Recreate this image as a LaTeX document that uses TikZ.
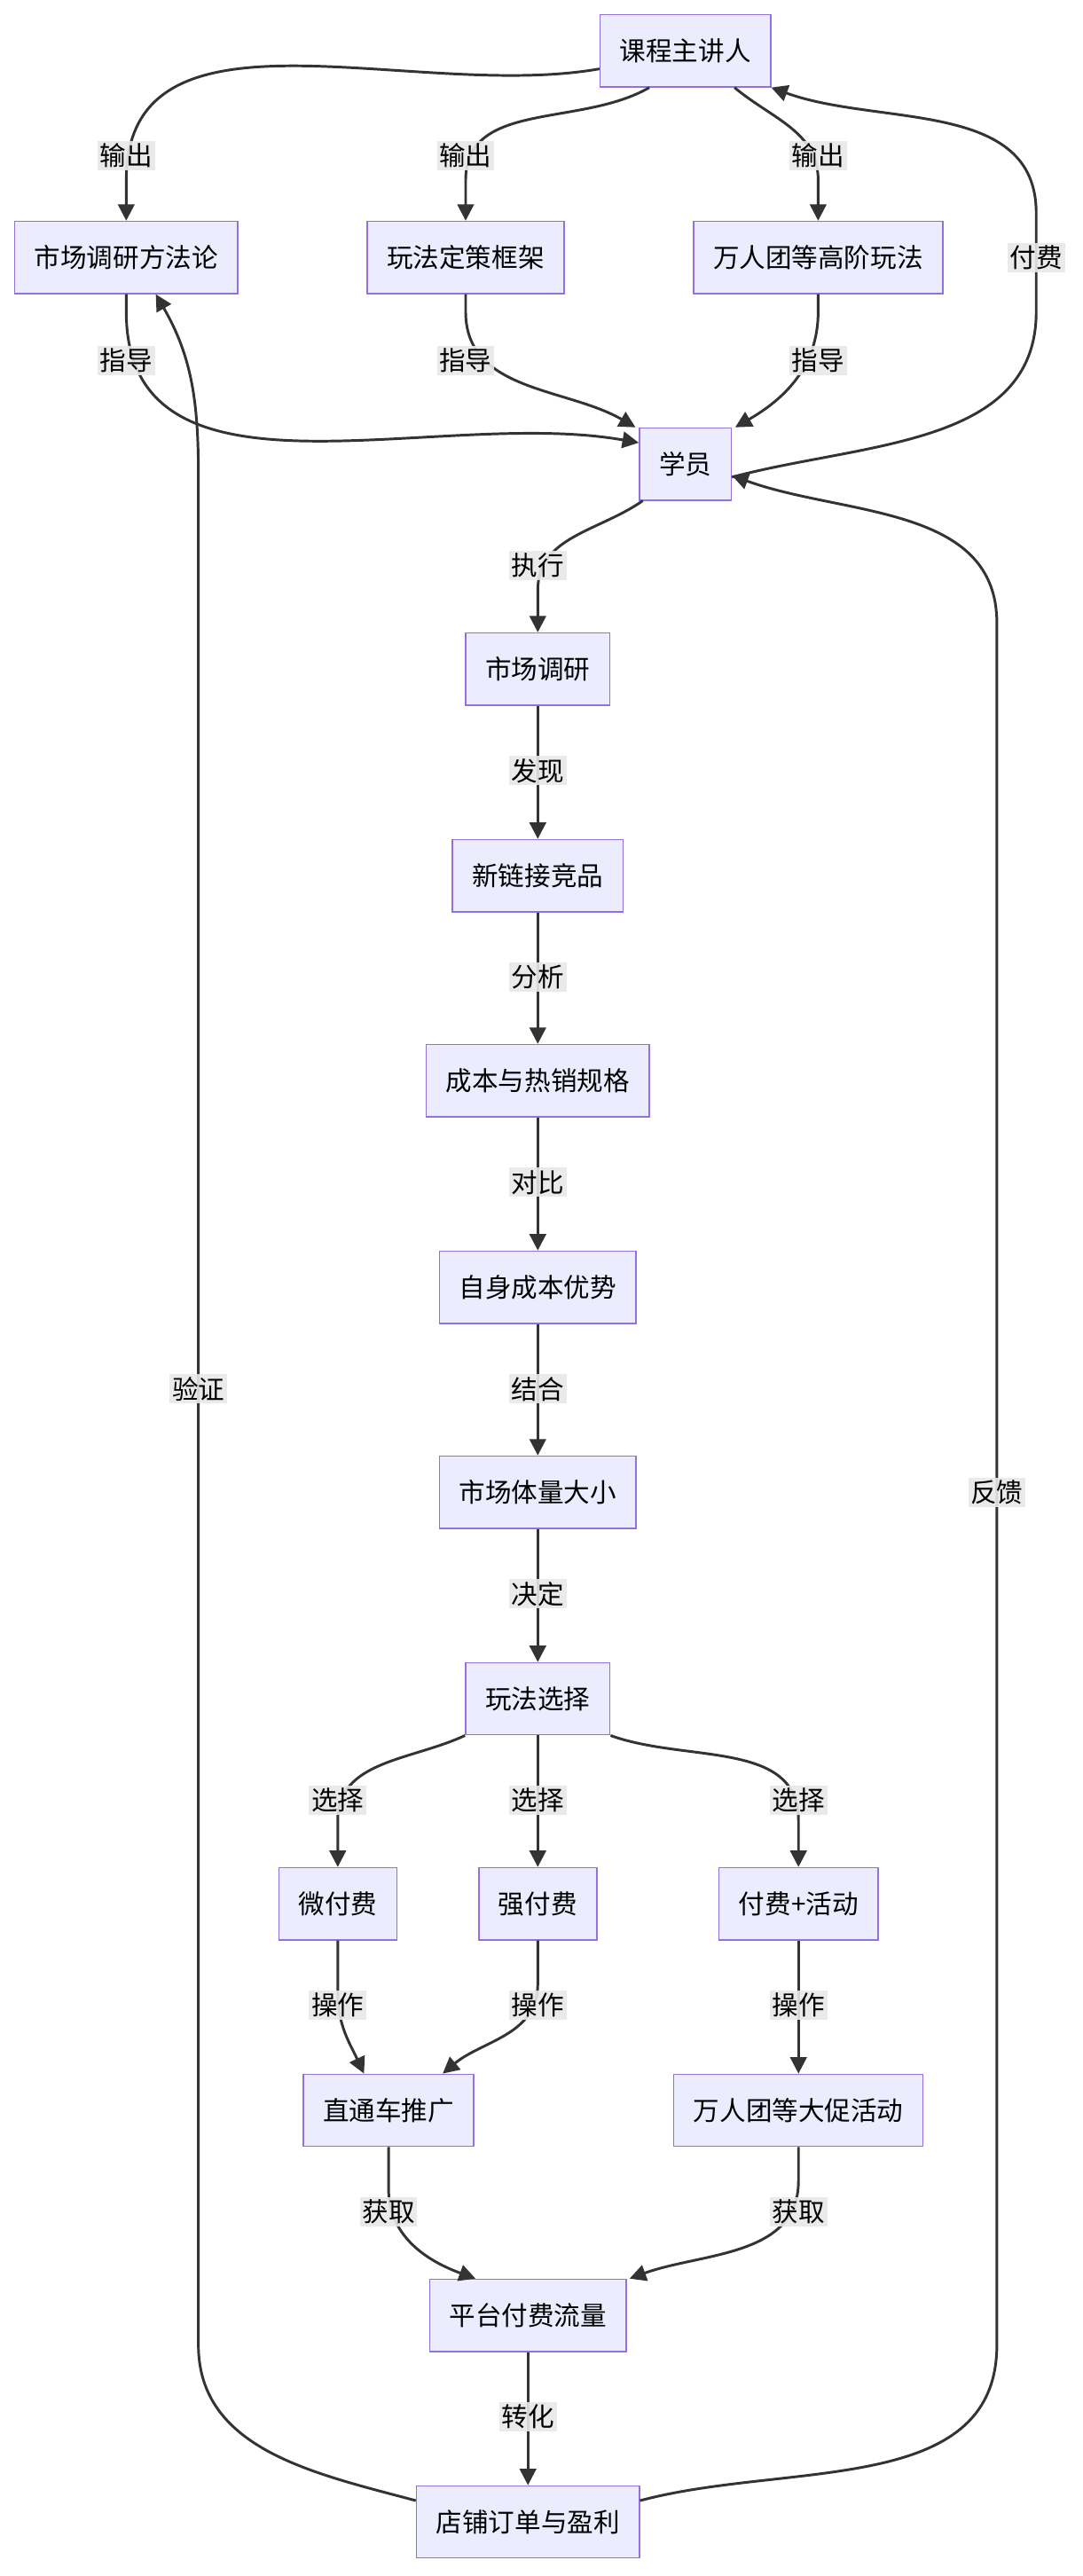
\documentclass[tikz,border=0pt]{standalone}
\usepackage{fontspec}
\setmainfont{Noto Sans CJK SC}
\usetikzlibrary{arrows.meta}
\definecolor{bd}{HTML}{9370DB}\definecolor{bg}{HTML}{ECECFF}\definecolor{ln}{HTML}{333333}\definecolor{lb}{HTML}{E8E8E8}
\begin{document}
\begin{tikzpicture}[x=1pt,y=-1pt,
  box/.style={draw=bd,fill=bg,line width=0.8pt,minimum height=44pt,inner xsep=12pt,font=\fontsize{16}{19}\selectfont},
  arr/.style={draw=ln,line width=1.6pt,-{Triangle[length=10pt,width=10pt]}},
  lbl/.style={fill=lb,fill opacity=0.9,text opacity=1,inner sep=1.5pt,font=\fontsize{16}{19}\selectfont}]
\useasboundingbox (0,0) rectangle (660,1571);
\fill[white] (0,0) rectangle (660,1571);
\node[box] (k) at (418,31) {课程主讲人};
\node[box] (f) at (77,157) {市场调研方法论};
\node[box] (g) at (284,157) {玩法定策框架};
\node[box] (w) at (499,157) {万人团等高阶玩法};
\node[box] (s) at (418,283) {学员};
\node[box] (m1) at (328,408) {市场调研};
\node[box] (m2) at (328,534) {新链接竞品};
\node[box] (m3) at (328,659) {成本与热销规格};
\node[box] (m4) at (328,785) {自身成本优势};
\node[box] (m5) at (328,910) {市场体量大小};
\node[box] (p) at (328,1036) {玩法选择};
\node[box] (a) at (206,1161) {微付费};
\node[box] (b) at (328,1161) {强付费};
\node[box] (c) at (487,1161) {付费+活动};
\node[box] (z) at (237,1287) {直通车推广};
\node[box] (x) at (487,1287) {万人团等大促活动};
\node[box] (pf) at (322,1412) {平台付费流量};
\node[box] (o) at (322,1538) {店铺订单与盈利};

\draw[arr] ([yshift=-11]k.west) to[out=190,in=90] (77,110) -- (f.north);
\draw[arr] ([xshift=-22]k.south) to[out=-150,in=90] (284,110) -- (g.north);
\draw[arr] ([xshift=30]k.south) to[out=-40,in=90] (499,110) -- (w.north);
\draw[arr] (f.south) -- (77,190) to[out=-90,in=170] ([yshift=13]s.west);
\draw[arr] (g.south) -- (284,190) to[out=-90,in=150] ([xshift=-2]s.north west);
\draw[arr] (w.south) -- (499,190) to[out=-90,in=30] ([xshift=2]s.north east);
\draw[arr] ([yshift=-8]s.east) to[out=15,in=-90] (632,190) -- (632,130) to[out=90,in=-20] (k.south east);
\draw[arr] ([xshift=-26]s.south) to[out=-145,in=90] (328,360) -- (m1.north);
\draw[arr] (m1) -- (m2);
\draw[arr] (m2) -- (m3);
\draw[arr] (m3) -- (m4);
\draw[arr] (m4) -- (m5);
\draw[arr] (m5) -- (p);
\draw[arr] (p.south west) to[out=-155,in=90] (206,1110) -- (a.north);
\draw[arr] (p) -- (b);
\draw[arr] (p.south east) to[out=-20,in=90] (487,1110) -- (c.north);
\draw[arr] (a.south) -- (206,1215) to[out=-90,in=115] ([xshift=-15]z.north);
\draw[arr] (b.south) -- (328,1210) to[out=-90,in=40] ([xshift=33]z.north);
\draw[arr] (c) -- (x);
\draw[arr] (z.south) -- (237,1335) to[out=-90,in=160] ([xshift=-32]pf.north);
\draw[arr] (x.south) -- (487,1330) to[out=-90,in=20] ([xshift=62]pf.north);
\draw[arr] (pf) -- (o);
\draw[arr] ([yshift=13]o.west) to[out=165,in=-90] (121,1430) -- (121,290) to[out=90,in=-60] ([xshift=18]f.south);
\draw[arr] ([yshift=13]o.east) to[out=15,in=-90] (608,1430) -- (608,380) to[out=90,in=-20] ([yshift=-7]s.east);

\node[lbl] at (77,95) {输出};
\node[lbl] at (284,95) {输出};
\node[lbl] at (499,95) {输出};
\node[lbl] at (77,220) {指导};
\node[lbl] at (284,220) {指导};
\node[lbl] at (499,220) {指导};
\node[lbl] at (632,157) {付费};
\node[lbl] at (328,345) {执行};
\node[lbl] at (328,470) {发现};
\node[lbl] at (328,596) {分析};
\node[lbl] at (328,721) {对比};
\node[lbl] at (328,847) {结合};
\node[lbl] at (328,972) {决定};
\node[lbl] at (206,1098) {选择};
\node[lbl] at (328,1098) {选择};
\node[lbl] at (487,1098) {选择};
\node[lbl] at (206,1223) {操作};
\node[lbl] at (328,1223) {操作};
\node[lbl] at (487,1223) {操作};
\node[lbl] at (237,1349) {获取};
\node[lbl] at (487,1349) {获取};
\node[lbl] at (322,1474) {转化};
\node[lbl] at (121,847) {验证};
\node[lbl] at (608,910) {反馈};
\end{tikzpicture}
\end{document}
